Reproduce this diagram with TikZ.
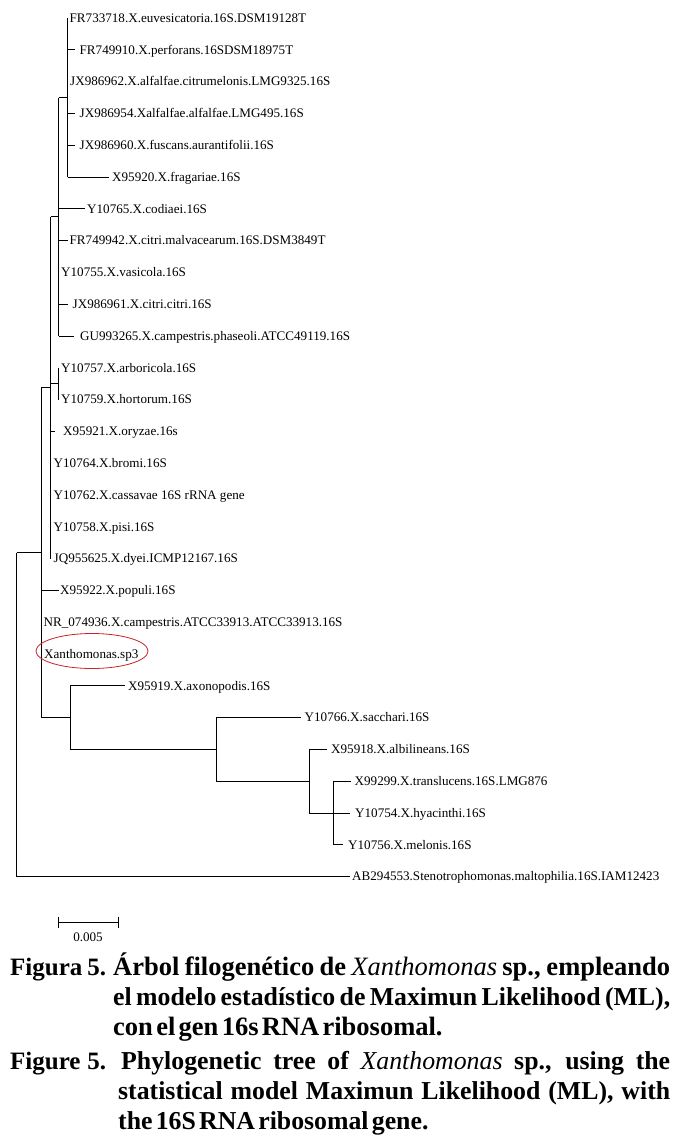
\documentclass[tikz,border=0pt]{standalone}
\usepackage{fontspec}
\setmainfont{Liberation Serif}
\newfontfamily\capfont[WordSpace={0.5,1,1}]{Liberation Serif}
\usetikzlibrary{shapes.geometric}
\definecolor{ringred}{RGB}{200,35,40}
\begin{document}
\begin{tikzpicture}[x=1pt,y=-1pt,
  br/.style={line width=0.85pt},
  leaf/.style={anchor=west, inner sep=0pt, font=\fontsize{13.1}{14}\selectfont, text height=8.7pt, text depth=0pt},
  capes/.style={anchor=base west, inner sep=0pt, font=\capfont\bfseries\fontsize{26.5}{30}\selectfont},
  capen/.style={anchor=base west, inner sep=0pt, font=\capfont\bfseries\fontsize{25.8}{30}\selectfont},
  caplabel/.style={anchor=base west, inner sep=0pt, font=\capfont\bfseries\fontsize{25}{30}\selectfont},
  ring/.style={draw=ringred, line width=0.8pt, ellipse, inner sep=0pt},
  scalelabel/.style={inner sep=0pt, font=\fontsize{13.1}{14}\selectfont},
]
\useasboundingbox[fill=white] (0,0) rectangle (685,1143);

% ---------- leaves ----------
\node[leaf] (l1)  at (69.5,18.0)  {FR733718.X.euvesicatoria.16S.DSM19128T};
\node[leaf] (l2)  at (79.5,49.8)  {FR749910.X.perforans.16SDSM18975T};
\node[leaf] (l3)  at (70.0,81.6)  {JX986962.X.alfalfae.citrumelonis.LMG9325.16S};
\node[leaf] (l4)  at (79.5,113.4) {JX986954.Xalfalfae.alfalfae.LMG495.16S};
\node[leaf] (l5)  at (79.5,145.2) {JX986960.X.fuscans.aurantifolii.16S};
\node[leaf] (l6)  at (112.0,177.0) {X95920.X.fragariae.16S};
\node[leaf] (l7)  at (87.0,208.8) {Y10765.X.codiaei.16S};
\node[leaf] (l8)  at (69.5,240.6) {FR749942.X.citri.malvacearum.16S.DSM3849T};
\node[leaf] (l9)  at (61.0,272.4) {Y10755.X.vasicola.16S};
\node[leaf] (l10) at (72.5,304.2) {JX986961.X.citri.citri.16S};
\node[leaf] (l11) at (80.0,336.0) {GU993265.X.campestris.phaseoli.ATCC49119.16S};
\node[leaf] (l12) at (61.0,367.8) {Y10757.X.arboricola.16S};
\node[leaf] (l13) at (61.0,399.6) {Y10759.X.hortorum.16S};
\node[leaf] (l14) at (63.0,431.4) {X95921.X.oryzae.16s};
\node[leaf] (l15) at (53.5,463.2) {Y10764.X.bromi.16S};
\node[leaf] (l16) at (53.5,495.0) {Y10762.X.cassavae 16S rRNA gene};
\node[leaf] (l17) at (53.5,526.8) {Y10758.X.pisi.16S};
\node[leaf] (l18) at (53.5,558.6) {JQ955625.X.dyei.ICMP12167.16S};
\node[leaf] (l19) at (60.0,590.4) {X95922.X.populi.16S};
\node[leaf] (l20) at (43.5,622.2) {NR\_074936.X.campestris.ATCC33913.ATCC33913.16S};
\node[leaf] (l21) at (44.0,654.0) {Xanthomonas.sp3};
\node[leaf] (l22) at (128.0,685.8) {X95919.X.axonopodis.16S};
\node[leaf] (l23) at (304.5,717.6) {Y10766.X.sacchari.16S};
\node[leaf] (l24) at (331.0,749.4) {X95918.X.albilineans.16S};
\node[leaf] (l25) at (354.5,781.2) {X99299.X.translucens.16S.LMG876};
\node[leaf] (l26) at (355.0,813.0) {Y10754.X.hyacinthi.16S};
\node[leaf] (l27) at (348.0,844.8) {Y10756.X.melonis.16S};
\node[leaf] (l28) at (352.0,876.6) {AB294553.Stenotrophomonas.maltophilia.16S.IAM12423};

% ---------- internal nodes ----------
\coordinate (nA) at (67.7,97.5);
\coordinate (nB) at (58.7,216.75);
\coordinate (nC) at (58.7,383.7);
\coordinate (nD) at (50.7,387.7);
\coordinate (nI) at (333,813);
\coordinate (nG) at (309,781.2);
\coordinate (nH) at (216,749.4);
\coordinate (nE) at (70,717.6);
\coordinate (nF) at (41.3,552.65);
\coordinate (nR) at (16.6,714.6);

% ---------- verticals ----------
\draw[br] (nA |- l1.west) -- (nA |- l6.west);
\draw[br] (nB |- nA) -- (nB |- l11.west);
\draw[br] (nC |- l12.west) -- (nC |- l13.west);
\draw[br] (nD |- nB) -- (nD |- l18.west);
\draw[br] (nF |- nD) -- (nF |- nE);
\draw[br] (nE |- l22.west) -- (nE |- nH);
\draw[br] (nH |- l23.west) -- (nH |- nG);
\draw[br] (nG |- l24.west) -- (nG |- nI);
\draw[br] (nI |- l25.west) -- (nI |- l27.west);
\draw[br] (nR |- nF) -- (nR |- l28.west);

% ---------- internal horizontals ----------
\draw[br] (nB |- nA) -- (nA);
\draw[br] (nD |- nB) -- (nB);
\draw[br] (nD |- nC) -- (nC);
\draw[br] (nF |- nD) -- (nD);
\draw[br] (nF |- nE) -- (nE);
\draw[br] (nE |- nH) -- (nH);
\draw[br] (nH |- nG) -- (nG);
\draw[br] (nG |- nI) -- (nI);
\draw[br] (nR |- nF) -- (nF);

% ---------- leaf branches ----------
\draw[br] (nA |- l2.west) -- ([xshift=-4.5pt]l2.west);
\draw[br] (nA |- l4.west) -- ([xshift=-4.5pt]l4.west);
\draw[br] (nA |- l5.west) -- ([xshift=-4.5pt]l5.west);
\draw[br] (nA |- l6.west) -- ([xshift=-3.5pt]l6.west);
\draw[br] (nB |- l7.west) -- ([xshift=-2pt]l7.west);
\draw[br] (nB |- l8.west) -- ([xshift=-1.5pt]l8.west);
\draw[br] (nB |- l10.west) -- ([xshift=-4.8pt]l10.west);
\draw[br] (nB |- l11.west) -- ([xshift=-6pt]l11.west);
\draw[br] (nD |- l14.west) -- ([xshift=-8pt]l14.west);
\draw[br] (nF |- l19.west) -- ([xshift=-1pt]l19.west);
\draw[br] (nE |- l22.west) -- ([xshift=-3.5pt]l22.west);
\draw[br] (nH |- l23.west) -- ([xshift=-4pt]l23.west);
\draw[br] (nG |- l24.west) -- ([xshift=-4pt]l24.west);
\draw[br] (nI |- l25.west) -- ([xshift=-3.5pt]l25.west);
\draw[br] (nI |- l26.west) -- ([xshift=-5pt]l26.west);
\draw[br] (nI |- l27.west) -- ([xshift=-5pt]l27.west);
\draw[br] (nR |- l28.west) -- ([xshift=-2.5pt]l28.west);

% ---------- highlight ----------
\node[ring, minimum width=112pt, minimum height=35pt] (ell) at (92,651) {};

% ---------- scale bar ----------
\coordinate (s0) at (58,922);
\coordinate (s1) at (118,922);
\draw[line width=0.8pt] (s0) -- (s1);
\draw[line width=0.8pt] ([yshift=5.5pt]s0) -- ([yshift=-5.5pt]s0);
\draw[line width=0.8pt] ([yshift=5.5pt]s1) -- ([yshift=-5.5pt]s1);
\node[scalelabel] (sl) at (88,937) {0.005};

% ---------- caption ----------
\node[caplabel] (c1a) at (10,975) {\makebox[96pt][s]{Figura 5.}};
\node[capes] (c1) at (113,975) {\makebox[557pt][s]{Árbol filogenético de {\mdseries\itshape Xanthomonas} sp., empleando}};
\node[capen] (c2) at (113,1005) {\makebox[557pt][s]{el modelo estadístico de Maximun Likelihood (ML),}};
\node[capes] (c3) at (113,1035) {con el gen 16s RNA ribosomal.};
\node[caplabel] (c4a) at (10,1069) {\makebox[96pt][s]{Figure 5.}};
\node[capen] (c4) at (121,1069) {\makebox[549pt][s]{Phylogenetic tree of {\mdseries\itshape Xanthomonas} sp., using the}};
\node[capen] (c5) at (118,1099) {\makebox[552pt][s]{statistical model Maximun Likelihood (ML), with}};
\node[capen] (c6) at (118,1129) {the 16S RNA ribosomal gene.};
\end{tikzpicture}
\end{document}
